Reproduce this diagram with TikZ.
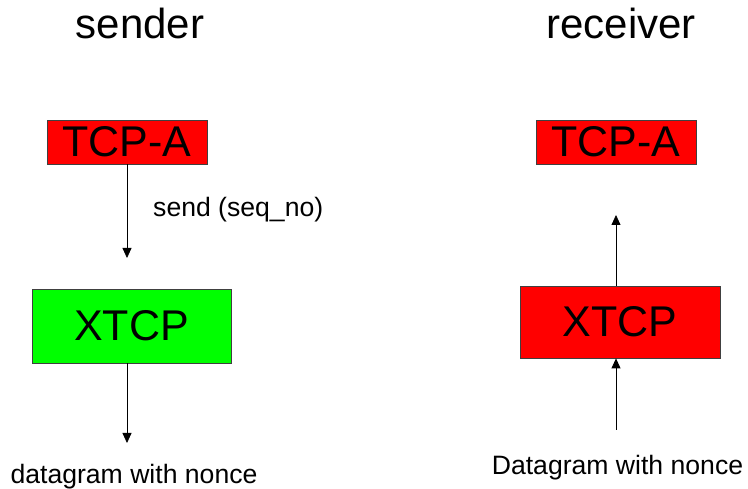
\documentclass[tikz,border=0pt]{standalone}
\usepackage{fontspec}
\setmainfont{Liberation Sans}
\usetikzlibrary{arrows.meta}
\definecolor{boxred}{HTML}{FF0000}
\definecolor{boxgreen}{HTML}{00FF00}
\begin{document}
\begin{tikzpicture}[x=1pt,y=-1pt,
  blockbox/.style={draw=black!75,line width=0.8pt,inner sep=0pt,font=\fontsize{43}{50}\selectfont},
  titletext/.style={inner sep=0pt,anchor=base,font=\fontsize{42}{48}\selectfont},
  labeltext/.style={inner sep=0pt,font=\fontsize{26.6}{31}\selectfont},
  arr/.style={line width=0.8pt,-{Triangle[width=9pt,length=10pt]}}]
\useasboundingbox (0,0) rectangle (748,489);
% titles
\node[titletext] (sendertitle) at (140,39) {sender};
\node[titletext] (receivertitle) at (621,39) {receiver};
% sender side
\node[blockbox,fill=boxred,minimum width=160pt,minimum height=44pt] (sTCP) at (127,142) {TCP-A};
\node[blockbox,fill=boxgreen,minimum width=199pt,minimum height=74pt] (sX) at (131.5,326) {XTCP};
\coordinate (sendtip) at (127,258);
\draw[arr] (sTCP.south -| sendtip) -- (sendtip);
\node[labeltext,anchor=base west] (sendlbl) at (153,217) {send (seq\_no)};
\coordinate (dgtip) at (127,443);
\draw[arr] (dgtip |- sX.south) -- (dgtip);
\node[labeltext,anchor=base] (sdg) at (134,483) {datagram with nonce};
% receiver side
\node[blockbox,fill=boxred,minimum width=160pt,minimum height=44pt] (rTCP) at (616,142) {TCP-A};
\node[blockbox,fill=boxred,minimum width=200pt,minimum height=72pt] (rX) at (620,322) {XTCP};
\coordinate (rup) at (616,215);
\draw[arr] (rup |- rX.north) -- (rup);
\coordinate (rin) at (616,430);
\draw[arr] (rin) -- (rin |- rX.south);
\node[labeltext,anchor=base] (rdg) at (617.5,475) {Datagram with nonce};
\end{tikzpicture}
\end{document}
